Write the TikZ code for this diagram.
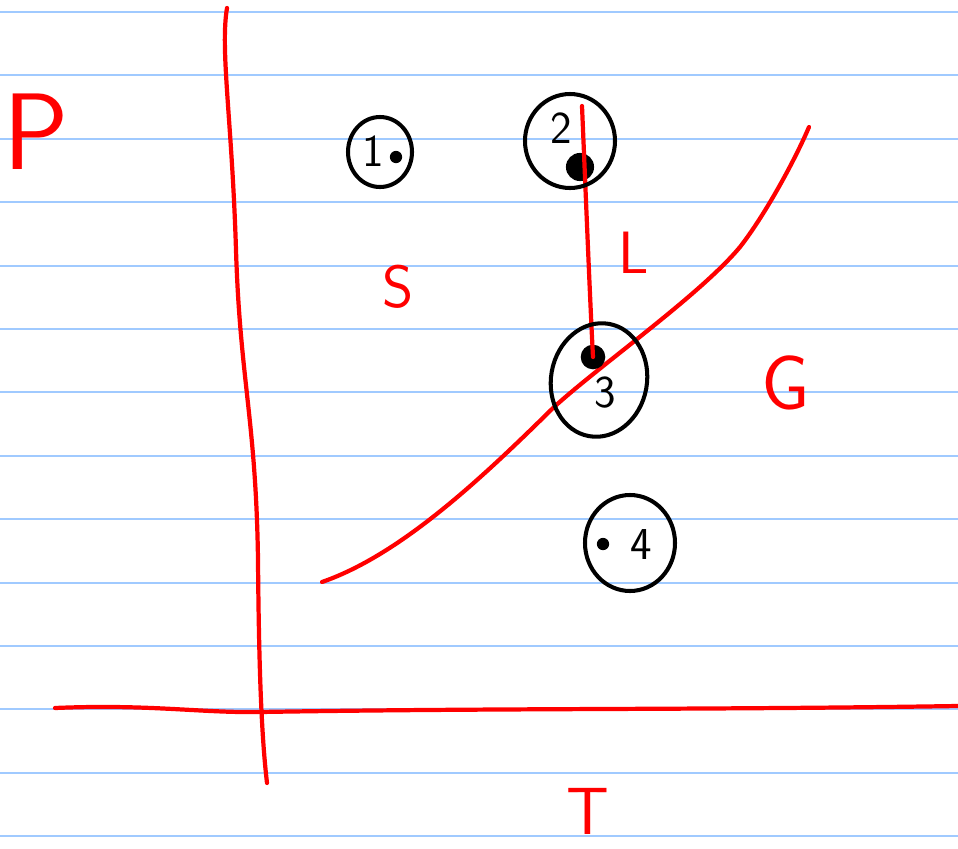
\documentclass[tikz,border=0pt]{standalone}
\usepackage{amsmath}
\definecolor{ruleblue}{RGB}{160,202,255}

\begin{document}
\begin{tikzpicture}[x=0.02cm, y=-0.02cm,
  ruled/.style={line width=1.2pt, color=ruleblue},
  redline/.style={line width=2.4pt, red, line cap=round, line join=round},
  ring/.style={line width=2.3pt, black},
  dot/.style={circle, fill=black, inner sep=0pt, minimum size=#1},
  letter/.style={red, inner sep=0pt, font=\sffamily\fontsize{#1}{#1}\selectfont},
  digit/.style={black, inner sep=0pt, font=\sffamily\fontsize{26}{26}\selectfont}]

\useasboundingbox (0,0) rectangle (958,849);
\fill[white] (0,0) rectangle (958,849);

% Ruled paper
\foreach \k in {0,...,13}
  \draw[ruled] (0,{12+63.4*\k}) -- (958,{12+63.4*\k});

% Axes
\draw[redline] (227,8) .. controls (220,50) and (232,120) .. (236,250)
  .. controls (240,380) and (256,420) .. (258,560)
  .. controls (259,680) and (262,740) .. (267,783);
\draw[redline] (55,708) .. controls (150,704) and (200,713) .. (260,712)
  .. controls (500,708) and (700,710) .. (958,706);
\node[letter=62] (P) at (36,132) {P};
\node[letter=38, anchor=north] (T) at (588,788) {T};

% Phase labels
\node[letter=34] (S) at (398,287) {S};
\node[letter=34] (L) at (634,253) {L};
\node[letter=44] (G) at (786,383) {G};

% Coexistence curve
\draw[redline] (322,582) .. controls (400,555) and (480,480) .. (553,408)
  .. controls (600,365) and (700,295) .. (740,247)
  .. controls (765,215) and (795,160) .. (809,127);

% States
\node[dot=7pt] (d1) at (396,157) {};
\node[dot=16pt] (d2) at (580,167) {};
\node[dot=14pt] (d3) at (593,357) {};
\node[dot=7pt] (d4) at (603,544) {};
\node[digit] (n1) at (373,151) {1};
\node[digit] (n2) at (561,128) {2};
\node[digit] (n3) at (605,393) {3};
\node[digit] (n4) at (641,545) {4};

% Path from 2 to 3
\coordinate (top2) at (582,106);
\draw[redline] (top2) .. controls (586,200) and (590,300) .. (d3.center);

% Circles
\draw[ring] (380,152) ellipse (32 and 35);
\draw[ring] (570,141) ellipse (45 and 47);
\draw[ring, rotate around={-10:(599,380)}] (599,380) ellipse (48 and 57);
\draw[ring] (630,543) ellipse (45 and 48);

\end{tikzpicture}
\end{document}
